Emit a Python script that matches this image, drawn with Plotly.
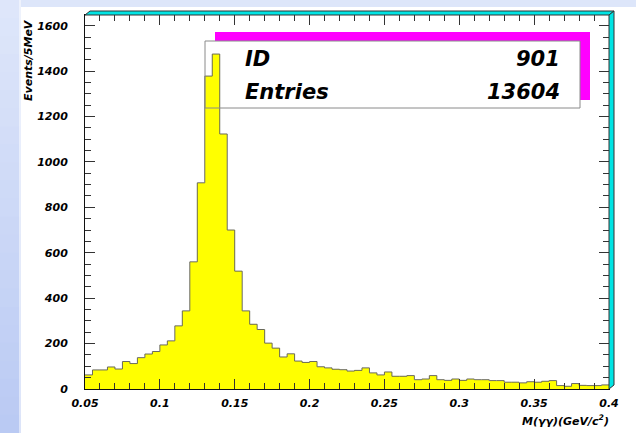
import plotly.graph_objects as go

# Diphoton invariant mass histogram, 5 MeV bins from 0.05 to 0.4 GeV/c^2
bin_low = 0.05
bin_width = 0.005
counts = [62, 84, 84, 97, 88, 121, 112, 138, 154, 165,
          194, 212, 278, 344, 560, 908, 1378, 1475, 1123, 700,
          519, 344, 285, 262, 202, 180, 141, 155, 123, 117,
          121, 98, 93, 87, 85, 79, 82, 93, 71, 62,
          75, 56, 56, 59, 41, 44, 59, 41, 38, 44,
          38, 44, 41, 41, 37, 37, 30, 30, 27, 32,
          30, 34, 37, 15, 12, 24, 16, 15, 15, 18]

x_tickvals = [0.05, 0.1, 0.15, 0.2, 0.25, 0.3, 0.35, 0.4]
x_ticktext = ["0.05", "0.1", "0.15", "0.2", "0.25", "0.3", "0.35", "0.4"]
y_tickvals = [0, 200, 400, 600, 800, 1000, 1200, 1400, 1600]
y_ticktext = ["0", "200", "400", "600", "800", "1000", "1200", "1400", "1600"]

hist_id = "901"
hist_entries = "13604"

centers = [bin_low + (i + 0.5) * bin_width for i in range(len(counts))]
edges = [bin_low + i * bin_width for i in range(len(counts) + 1)]

# page geometry (pixels) and helpers to convert to paper coordinates
W, H = 636, 433
L, R, T, B = 85, 609, 15, 389


def px(xp):
    return (xp - L) / (R - L)


def py(yp):
    return (B - yp) / (B - T)


FONT = "DejaVu Sans"

fig = go.Figure()
fig.add_trace(go.Bar(x=centers, y=counts, width=bin_width,
                     marker=dict(color="#ffff00", line=dict(width=0)),
                     hoverinfo="skip"))
fig.add_trace(go.Scatter(x=edges, y=counts + [counts[-1]], mode="lines",
                         line=dict(color="#6a6a5a", width=1, shape="hv"),
                         hoverinfo="skip"))

shapes = []
# top pale band of the page
shapes.append(dict(type="rect", xref="paper", yref="paper", layer="below",
                   x0=px(0), x1=px(W), y0=py(7), y1=py(0),
                   fillcolor="rgb(221,230,250)", line=dict(width=0)))
# left gradient strip
n_seg = 24
top_c = (222, 230, 250)
bot_c = (186, 202, 243)
for k in range(n_seg):
    f = k / (n_seg - 1)
    c = tuple(int(round(top_c[j] + (bot_c[j] - top_c[j]) * f)) for j in range(3))
    y0p = H * k / n_seg
    y1p = H * (k + 1) / n_seg + 1
    shapes.append(dict(type="rect", xref="paper", yref="paper", layer="below",
                       x0=px(0), x1=px(19), y0=py(y1p), y1=py(y0p),
                       fillcolor="rgb(%d,%d,%d)" % c, line=dict(width=0)))
    soft = tuple(int(round((c[j] + 255) / 2)) for j in range(3))
    shapes.append(dict(type="rect", xref="paper", yref="paper", layer="below",
                       x0=px(19), x1=px(21), y0=py(y1p), y1=py(y0p),
                       fillcolor="rgb(%d,%d,%d)" % soft, line=dict(width=0)))

# statistics box: magenta shadow, white panel, outline on top
shapes.append(dict(type="rect", xref="paper", yref="paper", layer="below",
                   x0=px(215), x1=px(590), y0=py(100), y1=py(32),
                   fillcolor="#ff00ff", line=dict(width=0)))
shapes.append(dict(type="rect", xref="paper", yref="paper", layer="below",
                   x0=px(205), x1=px(580), y0=py(108), y1=py(41),
                   fillcolor="white", line=dict(width=0)))
shapes.append(dict(type="rect", xref="paper", yref="paper", layer="above",
                   x0=px(205), x1=px(580), y0=py(108), y1=py(41),
                   fillcolor="rgba(0,0,0,0)", line=dict(color="#8a8a8a", width=1)))

# raised cyan frame edges
d = 5
shapes.append(dict(type="path", xref="paper", yref="paper", layer="above",
                   path="M %f,%f L %f,%f L %f,%f L %f,%f Z" % (
                       px(L), py(T), px(L + d), py(T - d + 1),
                       px(R + d), py(T - d + 1), px(R), py(T)),
                   fillcolor="#00e4e4", line=dict(color="#333333", width=1)))
shapes.append(dict(type="path", xref="paper", yref="paper", layer="above",
                   path="M %f,%f L %f,%f L %f,%f L %f,%f Z" % (
                       px(R), py(T), px(R + d), py(T - d + 1),
                       px(R + d), py(B - d + 1), px(R), py(B)),
                   fillcolor="#00e4e4", line=dict(color="#333333", width=1)))

bi = dict(family=FONT, color="black", weight="bold", style="italic")

annotations = [
    dict(text="ID", x=px(243), y=py(59), xanchor="left", yanchor="middle",
         font=dict(size=21, **bi)),
    dict(text=hist_id, x=px(562), y=py(59), xanchor="right", yanchor="middle",
         font=dict(size=21, **bi)),
    dict(text="Entries", x=px(243), y=py(92), xanchor="left", yanchor="middle",
         font=dict(size=21, **bi)),
    dict(text=hist_entries, x=px(562), y=py(92), xanchor="right", yanchor="middle",
         font=dict(size=21, **bi)),
    dict(text="Events/5MeV", x=px(28), y=py(17), xanchor="center", yanchor="top",
         textangle=-90, font=dict(size=11, **bi)),
    dict(text="M(γγ)(GeV/c<sup>2</sup>)", x=px(611), y=py(420), xanchor="right",
         yanchor="middle", font=dict(size=11, **bi)),
]
for a in annotations:
    a.update(xref="paper", yref="paper", showarrow=False)

axis_common = dict(showline=True, linecolor="#111111", linewidth=1, mirror="ticks",
                   ticks="inside", ticklen=10, tickwidth=1, tickcolor="#333333",
                   showgrid=False, zeroline=False,
                   tickfont=dict(size=11, **bi))

fig.update_layout(
    width=W, height=H,
    margin=dict(l=L, r=W - R, t=T, b=H - B),
    paper_bgcolor="white", plot_bgcolor="rgba(0,0,0,0)",
    showlegend=False, bargap=0,
    xaxis=dict(range=[0.05, 0.4], tickmode="array", tickvals=x_tickvals,
               ticktext=x_ticktext, ticklabelstandoff=4,
               minor=dict(tick0=0.05, dtick=0.01, ticks="inside", ticklen=6,
                          tickcolor="#333333", showgrid=False),
               **axis_common),
    yaxis=dict(range=[0, 1647], tickmode="array", tickvals=y_tickvals,
               ticktext=y_ticktext, ticklabelstandoff=14,
               minor=dict(tick0=0, dtick=50, ticks="inside", ticklen=6,
                          tickcolor="#333333", showgrid=False),
               **axis_common),
    shapes=shapes,
    annotations=annotations,
)

fig.write_html("out.html")
